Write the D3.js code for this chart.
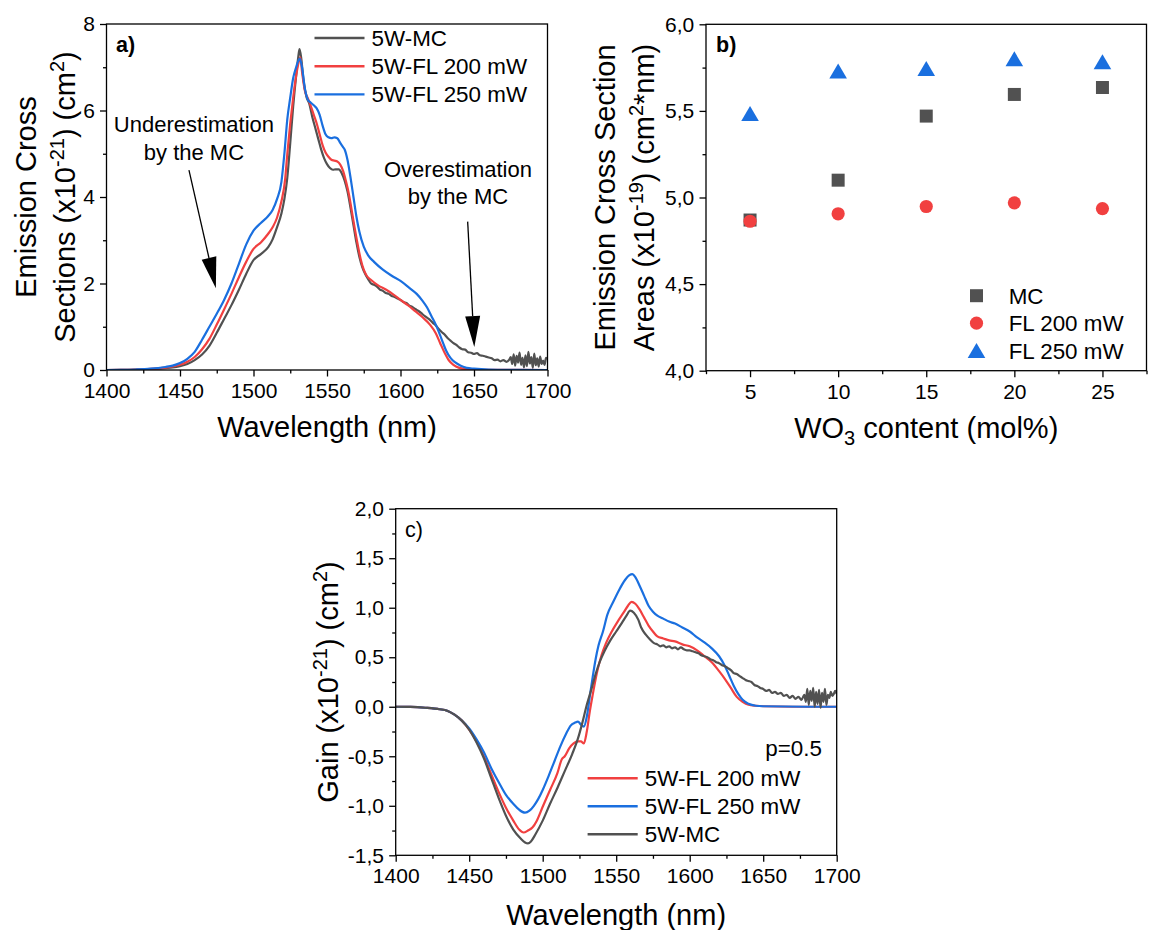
<!DOCTYPE html>
<html>
<head>
<meta charset="utf-8">
<script src="https://cdn.jsdelivr.net/npm/d3@7"></script>
<style>
  body { margin: 0; background: #fff; }
  svg { display: block; }
  text { font-family: "Liberation Sans", Arial, sans-serif; fill: #000; }
</style>
</head>
<body>
<svg id="fig" width="1155" height="930"></svg>
<script>
// ---------------- data ----------------
// (a) emission cross sections, x10^-21 cm^2, [wavelength nm, value]
const emissionMC = [
  [1400,0],[1410,0.003],[1420,0.008],[1430,0.02],[1440,0.045],[1445,0.06],[1450,0.09],[1455,0.14],
  [1460,0.23],[1465,0.36],[1470,0.56],[1475,0.86],[1480,1.18],[1485,1.50],[1490,1.85],[1495,2.22],
  [1500,2.54],[1505,2.68],[1510,2.84],[1513,3.02],[1516,3.30],[1519,3.62],[1521,3.95],[1523,4.45],
  [1525,5.25],[1527,6.10],[1529,6.80],[1530.5,7.25],[1531.3,7.42],[1532.5,7.20],[1534,6.70],[1536,6.32],
  [1538,6.15],[1540,5.85],[1542,5.60],[1544,5.35],[1546,5.10],[1548,4.90],[1550,4.76],[1552,4.67],
  [1554,4.63],[1556,4.64],[1558,4.64],[1560,4.55],[1562,4.38],[1564,4.12],[1566,3.75],[1568,3.35],
  [1570,2.95],[1572,2.62],[1574,2.38],[1576,2.22],[1578,2.10],[1580,2.00],[1582,1.97],[1584,1.93],
  [1586,1.86],[1588,1.83],[1590,1.78],[1592,1.76],[1594,1.71],[1596,1.69],[1598,1.65],[1600,1.62],
  [1602,1.57],[1604,1.55],[1606,1.49],[1608,1.46],[1610,1.41],[1612,1.37],[1614,1.32],[1616,1.26],
  [1618,1.21],[1620,1.16],[1622,1.09],[1624,1.03],[1626,0.95],[1628,0.88],[1630,0.82],[1632,0.74],
  [1634,0.68],[1636,0.62],[1638,0.58],[1640,0.52],[1642,0.48],[1644,0.47],[1646,0.41],[1648,0.40],
  [1650,0.37],[1652,0.39],[1654,0.34],[1656,0.33],[1658,0.31],[1660,0.29],[1662,0.27],[1664,0.23],
  [1666,0.24],[1668,0.20],[1670,0.23],[1672,0.19],[1674,0.24],[1675,0.30],[1676,0.14],[1677,0.36],
  [1678,0.10],[1679,0.33],[1680,0.17],[1681,0.40],[1682,0.12],[1683,0.28],[1684,0.06],[1685,0.34],
  [1686,0.09],[1687,0.42],[1688,0.15],[1689,0.30],[1690,0.05],[1691,0.38],[1692,0.11],[1693,0.27],
  [1694,0.08],[1695,0.31],[1696,0.14],[1697,0.22],[1698,0.12],[1699,0.28],[1700,0.25]
];
const emissionFL200 = [
  [1400,0],[1410,0.003],[1420,0.01],[1430,0.025],[1440,0.055],[1445,0.08],[1450,0.12],[1455,0.19],
  [1460,0.30],[1465,0.48],[1470,0.72],[1475,1.05],[1480,1.40],[1485,1.76],[1490,2.14],[1495,2.50],
  [1500,2.80],[1505,2.95],[1510,3.15],[1513,3.30],[1516,3.52],[1519,3.90],[1521.5,4.40],[1523,5.00],
  [1525,5.70],[1527,6.30],[1529,6.80],[1531,7.15],[1531.8,7.23],[1533,6.90],[1535,6.45],[1537,6.28],
  [1539,6.10],[1541,5.90],[1543,5.70],[1545,5.45],[1547,5.20],[1549,5.03],[1551,4.93],[1553,4.86],
  [1555,4.84],[1557,4.82],[1559,4.75],[1561,4.60],[1563,4.35],[1565,4.05],[1567,3.65],[1569,3.25],
  [1571,2.88],[1573,2.55],[1575,2.32],[1577,2.18],[1580,2.08],[1585,1.95],[1590,1.86],[1595,1.75],
  [1600,1.62],[1605,1.50],[1610,1.36],[1615,1.22],[1620,1.05],[1624,0.85],[1627,0.62],[1630,0.40],
  [1633,0.22],[1636,0.12],[1640,0.05],[1645,0.02],[1650,0.01],[1660,0.004],[1680,0.002],[1700,0]
];
const emissionFL250 = [
  [1400,0],[1410,0.004],[1420,0.012],[1430,0.03],[1440,0.07],[1445,0.10],[1450,0.16],[1455,0.26],
  [1460,0.42],[1465,0.70],[1470,1.00],[1475,1.30],[1480,1.62],[1485,2.00],[1490,2.45],[1495,2.90],
  [1500,3.22],[1505,3.40],[1510,3.56],[1513,3.70],[1516,3.95],[1519,4.35],[1521,5.00],[1523,5.80],
  [1525,6.30],[1527,6.75],[1529,7.00],[1531.5,7.20],[1533,7.00],[1535,6.50],[1537,6.25],[1539,6.18],
  [1541,6.12],[1543,6.05],[1545,5.90],[1547,5.65],[1549,5.45],[1551,5.38],[1553,5.36],[1555,5.38],
  [1557,5.36],[1559,5.25],[1561,5.15],[1562,5.10],[1564,4.85],[1566,4.45],[1568,4.00],[1570,3.55],
  [1572,3.20],[1575,2.85],[1578,2.65],[1582,2.50],[1588,2.32],[1594,2.18],[1600,2.06],[1606,1.90],
  [1611,1.76],[1615,1.60],[1618,1.45],[1621,1.25],[1624,1.05],[1627,0.80],[1629,0.62],[1631,0.45],
  [1634,0.28],[1637,0.18],[1641,0.10],[1645,0.05],[1650,0.03],[1660,0.01],[1680,0.003],[1700,0]
];

// (b) integrated emission cross section areas, x10^-19 cm^2*nm
const wo3Content = [5, 10, 15, 20, 25];
const areaMC = [4.87, 5.10, 5.47, 5.595, 5.635];
const areaFL200 = [4.863, 4.906, 4.948, 4.969, 4.936];
const areaFL250 = [5.484, 5.73, 5.744, 5.80, 5.783];

// (c) gain coefficient at p = 0.5, x10^-21 cm^2, [wavelength nm, value]
const gainFL200 = [
  [1400,0],[1410,-0.002],[1420,-0.01],[1430,-0.025],[1435,-0.04],[1440,-0.08],[1445,-0.14],[1450,-0.23],
  [1455,-0.35],[1460,-0.50],[1465,-0.68],[1470,-0.86],[1475,-1.02],[1480,-1.15],[1484,-1.24],[1487,-1.27],
  [1490,-1.25],[1493,-1.22],[1496,-1.15],[1500,-1.01],[1505,-0.84],[1510,-0.67],[1513,-0.53],[1515,-0.50],
  [1518,-0.42],[1521,-0.37],[1524,-0.35],[1526,-0.35],[1528,-0.37],[1530,-0.25],[1532,-0.05],[1534,0.12],
  [1537,0.35],[1540,0.52],[1543,0.64],[1547,0.76],[1551,0.86],[1555,0.95],[1558,1.02],[1560.5,1.06],
  [1563,1.04],[1566,0.98],[1569,0.90],[1572,0.82],[1575,0.76],[1578,0.71],[1582,0.69],[1586,0.67],
  [1590,0.66],[1595,0.63],[1600,0.61],[1605,0.57],[1610,0.51],[1615,0.45],[1620,0.36],[1624,0.28],
  [1628,0.19],[1632,0.10],[1636,0.05],[1640,0.02],[1645,0.01],[1650,0.005],[1670,0],[1700,0]
];
const gainFL250 = [
  [1400,0],[1410,-0.002],[1420,-0.01],[1430,-0.025],[1435,-0.04],[1440,-0.08],[1445,-0.14],[1450,-0.22],
  [1455,-0.33],[1460,-0.46],[1465,-0.62],[1470,-0.76],[1475,-0.89],[1480,-0.98],[1484,-1.04],[1488,-1.07],
  [1491,-1.05],[1494,-1.00],[1497,-0.93],[1500,-0.84],[1504,-0.70],[1508,-0.55],[1512,-0.40],[1516,-0.27],
  [1519,-0.19],[1522,-0.16],[1524,-0.15],[1526,-0.18],[1528,-0.20],[1530,-0.10],[1532,0.10],[1534,0.30],
  [1536,0.48],[1538,0.62],[1541,0.76],[1544,0.93],[1548,1.06],[1552,1.18],[1556,1.28],[1559,1.33],
  [1561,1.34],[1563,1.31],[1566,1.22],[1569,1.12],[1572,1.02],[1575,0.96],[1578,0.92],[1582,0.89],
  [1586,0.86],[1590,0.84],[1595,0.80],[1600,0.76],[1605,0.70],[1610,0.65],[1615,0.59],[1620,0.51],
  [1624,0.41],[1627,0.31],[1630,0.21],[1633,0.13],[1636,0.07],[1640,0.03],[1645,0.01],[1650,0.005],
  [1680,0],[1700,0]
];
const gainMC = [
  [1400,0],[1410,-0.002],[1420,-0.01],[1430,-0.025],[1435,-0.04],[1440,-0.08],[1445,-0.14],[1450,-0.23],
  [1455,-0.36],[1460,-0.52],[1465,-0.72],[1470,-0.92],[1475,-1.10],[1480,-1.24],[1485,-1.33],[1488,-1.37],
  [1490,-1.38],[1492,-1.36],[1495,-1.29],[1500,-1.15],[1505,-0.98],[1510,-0.82],[1515,-0.65],[1520,-0.48],
  [1524,-0.32],[1527,-0.16],[1530,0.02],[1533,0.17],[1536,0.33],[1539,0.46],[1542,0.56],[1546,0.67],
  [1550,0.76],[1554,0.85],[1557,0.92],[1559.5,0.97],[1562,0.95],[1565,0.88],[1567,0.80],[1570,0.73],
  [1573,0.68],[1576,0.64],[1578,0.63],[1580,0.61],[1582,0.62],[1584,0.60],[1586,0.61],[1588,0.59],
  [1590,0.60],[1592,0.58],[1594,0.60],[1596,0.58],[1598,0.57],[1600,0.57],[1602,0.56],[1604,0.55],
  [1606,0.54],[1608,0.52],[1610,0.51],[1612,0.50],[1614,0.48],[1616,0.47],[1618,0.45],[1620,0.44],
  [1622,0.42],[1624,0.41],[1626,0.39],[1628,0.37],[1630,0.34],[1632,0.33],[1634,0.31],[1636,0.29],
  [1638,0.27],[1640,0.26],[1642,0.25],[1644,0.22],[1646,0.21],[1648,0.19],[1650,0.18],[1652,0.16],
  [1654,0.17],[1656,0.14],[1658,0.15],[1660,0.13],[1662,0.14],[1664,0.11],[1666,0.12],[1668,0.09],
  [1670,0.11],[1672,0.08],[1674,0.10],[1676,0.07],[1678,0.12],[1679,0.05],[1680,0.18],[1681,0.02],
  [1682,0.16],[1683,0.06],[1684,0.19],[1685,0.00],[1686,0.15],[1687,0.03],[1688,0.17],[1689,-0.01],
  [1690,0.14],[1691,0.05],[1692,0.18],[1693,0.02],[1694,0.12],[1695,0.09],[1696,0.15],[1697,0.11],
  [1698,0.13],[1699,0.16],[1700,0.13]
];

// tick values
const waveTicks = [1400, 1450, 1500, 1550, 1600, 1650, 1700];
const waveMinor = [1425, 1475, 1525, 1575, 1625, 1675];
const sigmaTicks = [0, 2, 4, 6, 8];
const sigmaMinor = [1, 3, 5, 7];
const contentMinor = [2.5, 7.5, 12.5, 17.5, 22.5, 27.5];
const areaTicks = [4.0, 4.5, 5.0, 5.5, 6.0];
const areaMinor = [4.25, 4.75, 5.25, 5.75];
const gainTicks = [-1.5, -1.0, -0.5, 0.0, 0.5, 1.0, 1.5, 2.0];
const gainMinor = [-1.25, -0.75, -0.25, 0.25, 0.75, 1.25, 1.75];

// ---------------- drawing ----------------
const COL = { mc: "#515151", fl200: "#F14040", fl250: "#1A6FDF" };
const FONT = '"Liberation Sans", Arial, sans-serif';
const TICK_FS = 21, LEG_FS = 22.4, TITLE_FS = 29, SUP_FS = 20;
const svg = d3.select("#fig");
const comma = v => v.toFixed(1).replace(".", ",");

function drawAxes(g, x, y, o) {
  const { x0, x1, y0, y1 } = o.box;
  const styleAxis = sel => {
    sel.attr("font-size", TICK_FS).attr("font-family", FONT);
    sel.select(".domain").remove();
    sel.selectAll("line").attr("stroke", "#000").attr("stroke-width", 1.3);
    sel.selectAll("text").attr("fill", "#000");
  };
  g.append("g").attr("transform", `translate(0,${y1})`)
    .call(d3.axisBottom(x).tickValues(o.xMinor).tickSize(3.5).tickFormat(""))
    .call(styleAxis);
  g.append("g").attr("transform", `translate(0,${y1})`)
    .call(d3.axisBottom(x).tickValues(o.xTicks).tickSize(6.5).tickPadding(6.5).tickFormat(o.xFormat))
    .call(styleAxis);
  g.append("g").attr("transform", `translate(${x0},0)`)
    .call(d3.axisLeft(y).tickValues(o.yMinor).tickSize(3.5).tickFormat(""))
    .call(styleAxis);
  g.append("g").attr("transform", `translate(${x0},0)`)
    .call(d3.axisLeft(y).tickValues(o.yTicks).tickSize(6.5).tickPadding(5.2).tickFormat(o.yFormat))
    .call(styleAxis);
  g.append("rect").attr("x", x0).attr("y", y0).attr("width", x1 - x0).attr("height", y1 - y0)
    .attr("fill", "none").attr("stroke", "#000").attr("stroke-width", 1.3);
}

function clipFor(id, box) {
  svg.append("clipPath").attr("id", id).append("rect")
    .attr("x", box.x0).attr("y", box.y0).attr("width", box.x1 - box.x0).attr("height", box.y1 - box.y0);
  return `url(#${id})`;
}

function yTitle(g, bx, cy, parts) {
  const t = g.append("text").attr("transform", `translate(${bx},${cy}) rotate(-90)`)
    .attr("text-anchor", "middle").attr("font-size", TITLE_FS);
  parts.forEach(p => {
    const s = t.append("tspan").text(p.t);
    if (p.sup) s.attr("font-size", SUP_FS).attr("dy", -11);
    if (p.back) s.attr("dy", 11);
  });
  return t;
}

function arrow(g, tail, tip, headLen, headW) {
  const dx = tip[0] - tail[0], dy = tip[1] - tail[1];
  const L = Math.hypot(dx, dy), ux = dx / L, uy = dy / L;
  const bx = tip[0] - ux * headLen, by = tip[1] - uy * headLen;
  g.append("line").attr("x1", tail[0]).attr("y1", tail[1]).attr("x2", bx).attr("y2", by)
    .attr("stroke", "#000").attr("stroke-width", 1.3);
  g.append("path").attr("fill", "#000")
    .attr("d", `M${tip[0]},${tip[1]}L${bx - uy * headW / 2},${by + ux * headW / 2}L${bx + uy * headW / 2},${by - ux * headW / 2}Z`);
}

// ---- panel (a) ----
const boxA = { x0: 106.5, x1: 547.5, y0: 24, y1: 370 };
const xA = d3.scaleLinear([1400, 1700], [boxA.x0, boxA.x1]);
const yA = d3.scaleLinear([0, 8], [boxA.y1, boxA.y0]);
const gA = svg.append("g");
const lineA = d3.line().x(d => xA(d[0])).y(d => yA(d[1])).curve(d3.curveMonotoneX);
const clipA = clipFor("clipA", boxA);
[[emissionMC, COL.mc], [emissionFL200, COL.fl200], [emissionFL250, COL.fl250]].forEach(([d, c]) => {
  gA.append("path").datum(d).attr("d", lineA).attr("clip-path", clipA)
    .attr("fill", "none").attr("stroke", c).attr("stroke-width", 2.2).attr("stroke-linejoin", "round");
});
drawAxes(gA, xA, yA, { box: boxA, xTicks: waveTicks, xMinor: waveMinor, yTicks: sigmaTicks, yMinor: sigmaMinor,
  xFormat: d3.format("d"), yFormat: d3.format("d") });
gA.append("text").attr("x", 116).attr("y", 51.7).attr("font-size", 21.5).attr("font-weight", "bold").text("a)");

// legend (a)
[["5W-MC", COL.mc], ["5W-FL 200 mW", COL.fl200], ["5W-FL 250 mW", COL.fl250]].forEach(([lab, c], i) => {
  const yy = 38 + i * 28.2;
  gA.append("line").attr("x1", 314.5).attr("x2", 364.5).attr("y1", yy).attr("y2", yy)
    .attr("stroke", c).attr("stroke-width", 2.4);
  gA.append("text").attr("x", 371.5).attr("y", yy).attr("dy", "0.36em").attr("font-size", LEG_FS).text(lab);
});

// annotations (a)
const noteUnder = { at: [1459.5, 5.50], lines: ["Underestimation", "by the MC"], tail: [1456.1, 4.62], tip: [1474.4, 1.89] };
const noteOver = { at: [1639.1, 4.47], lines: ["Overestimation", "by the MC"], tail: [1645.7, 3.43], tip: [1650.2, 0.53] };
[noteUnder, noteOver].forEach(n => {
  const t = gA.append("text").attr("text-anchor", "middle").attr("font-size", 22);
  n.lines.forEach((s, i) => t.append("tspan").attr("x", xA(n.at[0])).attr("y", yA(n.at[1]) + i * 27.5).text(s));
  arrow(gA, [xA(n.tail[0]), yA(n.tail[1])], [xA(n.tip[0]), yA(n.tip[1])], 31, 15);
});

// titles (a)
gA.append("text").attr("x", (boxA.x0 + boxA.x1) / 2).attr("y", 437).attr("text-anchor", "middle")
  .attr("font-size", TITLE_FS).text("Wavelength (nm)");
yTitle(gA, 35.5, 197, [{ t: "Emission Cross" }]);
yTitle(gA, 75, 197, [{ t: "Sections (x10" }, { t: "-21", sup: true }, { t: ") (cm", back: true }, { t: "2", sup: true }, { t: ")", back: true }]);

// ---- panel (b) ----
const boxB = { x0: 706, x1: 1146.5, y0: 24.3, y1: 370.7 };
const xB = d3.scaleLinear([2.5, 27.5], [boxB.x0, boxB.x1]);
const yB = d3.scaleLinear([4, 6], [boxB.y1, boxB.y0]);
const gB = svg.append("g");
drawAxes(gB, xB, yB, { box: boxB, xTicks: wo3Content, xMinor: contentMinor, yTicks: areaTicks, yMinor: areaMinor,
  xFormat: d3.format("d"), yFormat: comma });

const square = d3.symbol(d3.symbolSquare, 169);
const circle = d3.symbol(d3.symbolCircle, Math.PI * 6.6 * 6.6);
const triPath = (cx, cy) => `M${cx},${cy - 7.6}L${cx + 8.8},${cy + 7.4}L${cx - 8.8},${cy + 7.4}Z`;

gB.selectAll(".mc").data(wo3Content).join("path")
  .attr("transform", (d, i) => `translate(${xB(d)},${yB(areaMC[i])})`).attr("d", square).attr("fill", COL.mc);
gB.selectAll(".fl200").data(wo3Content).join("path")
  .attr("transform", (d, i) => `translate(${xB(d)},${yB(areaFL200[i])})`).attr("d", circle).attr("fill", COL.fl200);
wo3Content.forEach((d, i) => {
  gB.append("path").attr("d", triPath(xB(d), yB(areaFL250[i]))).attr("fill", COL.fl250);
});
gB.append("text").attr("x", 716).attr("y", 51.7).attr("font-size", 21.5).attr("font-weight", "bold").text("b)");

// legend (b)
const legB = [["MC", COL.mc, "sq"], ["FL 200 mW", COL.fl200, "ci"], ["FL 250 mW", COL.fl250, "tr"]];
legB.forEach(([lab, c, s], i) => {
  const yy = 295.7 + i * 27.5, xx = 976.5;
  if (s === "sq") gB.append("path").attr("transform", `translate(${xx},${yy})`).attr("d", square).attr("fill", c);
  if (s === "ci") gB.append("path").attr("transform", `translate(${xx},${yy})`).attr("d", circle).attr("fill", c);
  if (s === "tr") gB.append("path").attr("d", triPath(xx, yy)).attr("fill", c);
  gB.append("text").attr("x", 1008.7).attr("y", yy).attr("dy", "0.36em").attr("font-size", LEG_FS).text(lab);
});

// titles (b)
const xtB = gB.append("text").attr("x", (boxB.x0 + boxB.x1) / 2).attr("y", 438).attr("text-anchor", "middle").attr("font-size", TITLE_FS);
xtB.append("tspan").text("WO");
xtB.append("tspan").attr("font-size", SUP_FS).attr("dy", 7).text("3");
xtB.append("tspan").attr("dy", -7).text(" content (mol%)");
yTitle(gB, 615, 197.5, [{ t: "Emission Cross Section" }]);
yTitle(gB, 654, 197.5, [{ t: "Areas (x10" }, { t: "-19", sup: true }, { t: ") (cm", back: true }, { t: "2", sup: true }, { t: "*nm)", back: true }]);

// ---- panel (c) ----
const boxC = { x0: 395.7, x1: 836.7, y0: 508.7, y1: 855.3 };
const xC = d3.scaleLinear([1400, 1700], [boxC.x0, boxC.x1]);
const yC = d3.scaleLinear([-1.5, 2], [boxC.y1, boxC.y0]);
const gC = svg.append("g");
const lineC = d3.line().x(d => xC(d[0])).y(d => yC(d[1])).curve(d3.curveMonotoneX);
const clipC = clipFor("clipC", boxC);
[[gainFL200, COL.fl200], [gainFL250, COL.fl250], [gainMC, COL.mc]].forEach(([d, c]) => {
  gC.append("path").datum(d).attr("d", lineC).attr("clip-path", clipC)
    .attr("fill", "none").attr("stroke", c).attr("stroke-width", 2.2).attr("stroke-linejoin", "round");
});
drawAxes(gC, xC, yC, { box: boxC, xTicks: waveTicks, xMinor: waveMinor, yTicks: gainTicks, yMinor: gainMinor,
  xFormat: d3.format("d"), yFormat: comma });
gC.append("text").attr("x", 405).attr("y", 536.7).attr("font-size", 21.5).text("c)");
gC.append("text").attr("x", 765.3).attr("y", 756).attr("font-size", LEG_FS).text("p=0.5");

// legend (c)
[["5W-FL 200 mW", COL.fl200], ["5W-FL 250 mW", COL.fl250], ["5W-MC", COL.mc]].forEach(([lab, c], i) => {
  const yy = 778.3 + i * 28;
  gC.append("line").attr("x1", 587.6).attr("x2", 637.7).attr("y1", yy).attr("y2", yy)
    .attr("stroke", c).attr("stroke-width", 2.4);
  gC.append("text").attr("x", 644.8).attr("y", yy).attr("dy", "0.36em").attr("font-size", LEG_FS).text(lab);
});

// titles (c)
gC.append("text").attr("x", (boxC.x0 + boxC.x1) / 2).attr("y", 925).attr("text-anchor", "middle")
  .attr("font-size", TITLE_FS).text("Wavelength (nm)");
yTitle(gC, 338, 682, [{ t: "Gain (x10" }, { t: "-21", sup: true }, { t: ") (cm", back: true }, { t: "2", sup: true }, { t: ")", back: true }]);
</script>
</body>
</html>
